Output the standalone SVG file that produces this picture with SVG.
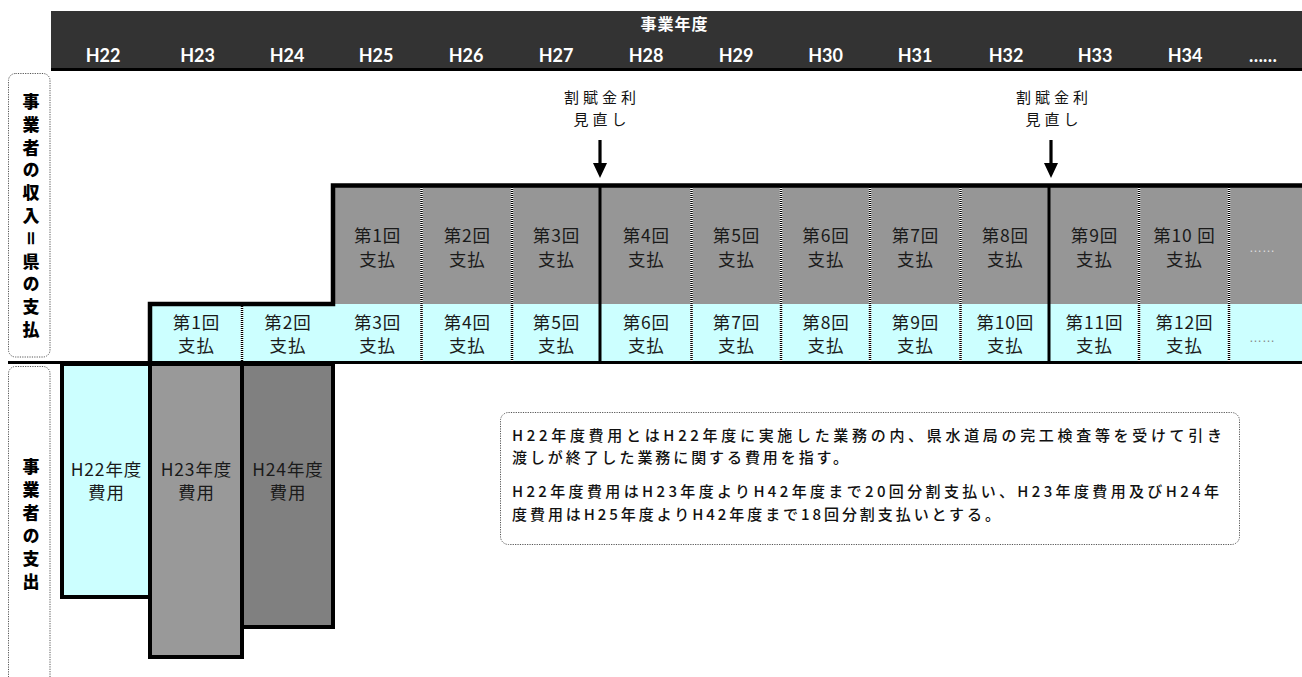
<svg xmlns="http://www.w3.org/2000/svg" width="1302" height="677" viewBox="0 0 1302 677">
<style>
.yr{font-family:"Lato","Noto Sans","Noto Sans CJK JP",sans-serif;font-size:18px;font-weight:bold;fill:#fff;text-anchor:middle}
.ttl{font-family:"Noto Sans CJK JP",sans-serif;font-size:16px;font-weight:bold;fill:#fff;text-anchor:middle;letter-spacing:1px}
.cell{font-family:"Noto Sans CJK JP",sans-serif;font-size:17.5px;fill:#1a1a1a;text-anchor:middle;letter-spacing:0.8px}
.vl{font-family:"Noto Sans CJK JP",sans-serif;font-size:17px;font-weight:900;fill:#000;writing-mode:vertical-rl}
.note{font-family:"Noto Sans CJK JP",sans-serif;font-size:15px;font-weight:500;fill:#111}
.ann{font-family:"Noto Sans CJK JP",sans-serif;font-size:15px;fill:#111;text-anchor:middle;letter-spacing:4px}
.dotbox{fill:none;stroke:#555;stroke-width:1;stroke-dasharray:1.2 1.2}
.sepw{stroke:#fff;stroke-width:2.5}
.sepd{stroke:#000;stroke-width:2.5;stroke-dasharray:1 1}
.thick{stroke:#000;stroke-width:3}
</style>

<g id="header">
<rect x="51" y="11" width="1251" height="58" fill="#333"/>
<rect x="51" y="68" width="1251" height="3" fill="#000"/>
<text class="ttl" x="674.5" y="30">事業年度</text>
<text class="yr" x="103" y="62">H22</text>
<text class="yr" x="197.5" y="62">H23</text>
<text class="yr" x="287" y="62">H24</text>
<text class="yr" x="376" y="62">H25</text>
<text class="yr" x="466" y="62">H26</text>
<text class="yr" x="556" y="62">H27</text>
<text class="yr" x="646" y="62">H28</text>
<text class="yr" x="736" y="62">H29</text>
<text class="yr" x="825.5" y="62">H30</text>
<text class="yr" x="915" y="62">H31</text>
<text class="yr" x="1006" y="62">H32</text>
<text class="yr" x="1095" y="62">H33</text>
<text class="yr" x="1185" y="62">H34</text>
<text class="yr" x="1263" y="62" font-weight="normal">……</text>
</g>

<g id="label-income">
<rect class="dotbox" x="8.5" y="73.5" width="41.5" height="283.5" rx="7"/>
<text class="vl" x="31" y="93" style="letter-spacing:5.8px">事業者の収入＝県の支払</text>
</g>

<g id="label-expense">
<rect class="dotbox" x="8.5" y="366.5" width="41.5" height="320" rx="7"/>
<text class="vl" x="31" y="458" style="letter-spacing:6px">事業者の支出</text>
</g>

<g id="payment-grid">
<rect x="333" y="185" width="969" height="119" fill="#969696"/>
<rect x="150" y="304" width="1152" height="58" fill="#ccffff"/>
<g id="separators">
<line class="sepw" x1="242" y1="306" x2="242" y2="361"/><line class="sepd" x1="242" y1="306" x2="242" y2="361"/>
<line class="sepw" x1="421.5" y1="187" x2="421.5" y2="361"/><line class="sepd" x1="421.5" y1="187" x2="421.5" y2="361"/>
<line class="sepw" x1="512" y1="187" x2="512" y2="361"/><line class="sepd" x1="512" y1="187" x2="512" y2="361"/>
<line class="sepw" x1="691.5" y1="187" x2="691.5" y2="361"/><line class="sepd" x1="691.5" y1="187" x2="691.5" y2="361"/>
<line class="sepw" x1="781" y1="187" x2="781" y2="361"/><line class="sepd" x1="781" y1="187" x2="781" y2="361"/>
<line class="sepw" x1="870" y1="187" x2="870" y2="361"/><line class="sepd" x1="870" y1="187" x2="870" y2="361"/>
<line class="sepw" x1="960.5" y1="187" x2="960.5" y2="361"/><line class="sepd" x1="960.5" y1="187" x2="960.5" y2="361"/>
<line class="sepw" x1="1139" y1="187" x2="1139" y2="361"/><line class="sepd" x1="1139" y1="187" x2="1139" y2="361"/>
<line class="sepw" x1="1229" y1="187" x2="1229" y2="361"/><line class="sepd" x1="1229" y1="187" x2="1229" y2="361"/>
<line class="thick" x1="600" y1="186" x2="600" y2="362"/>
<line class="thick" x1="1049" y1="186" x2="1049" y2="362"/>
</g>
<path d="M150,362 L150,304 L333,304 L333,185.5 L1302,185.5" fill="none" stroke="#000" stroke-width="4.5"/>
<line x1="8" y1="362.5" x2="1302" y2="362.5" stroke="#000" stroke-width="3"/>

<g id="gray-row-text">
<text class="cell" x="377.5" y="242">第1回</text><text class="cell" x="377.5" y="266">支払</text>
<text class="cell" x="467.2" y="242">第2回</text><text class="cell" x="467.2" y="266">支払</text>
<text class="cell" x="556.4" y="242">第3回</text><text class="cell" x="556.4" y="266">支払</text>
<text class="cell" x="646.2" y="242">第4回</text><text class="cell" x="646.2" y="266">支払</text>
<text class="cell" x="736.4" y="242">第5回</text><text class="cell" x="736.4" y="266">支払</text>
<text class="cell" x="825.9" y="242">第6回</text><text class="cell" x="825.9" y="266">支払</text>
<text class="cell" x="915.4" y="242">第7回</text><text class="cell" x="915.4" y="266">支払</text>
<text class="cell" x="1005.2" y="242">第8回</text><text class="cell" x="1005.2" y="266">支払</text>
<text class="cell" x="1094.4" y="242">第9回</text><text class="cell" x="1094.4" y="266">支払</text>
<text class="cell" x="1184.4" y="242">第10 回</text><text class="cell" x="1184.4" y="266">支払</text>
<text x="1262" y="252" font-family="Liberation Sans, sans-serif" font-size="13" fill="#ddd" text-anchor="middle">……</text>
</g>
<g id="cyan-row-text">
<text class="cell" x="196.4" y="329">第1回</text><text class="cell" x="196.4" y="352">支払</text>
<text class="cell" x="287.9" y="329">第2回</text><text class="cell" x="287.9" y="352">支払</text>
<text class="cell" x="377.5" y="329">第3回</text><text class="cell" x="377.5" y="352">支払</text>
<text class="cell" x="467.2" y="329">第4回</text><text class="cell" x="467.2" y="352">支払</text>
<text class="cell" x="556.4" y="329">第5回</text><text class="cell" x="556.4" y="352">支払</text>
<text class="cell" x="646.2" y="329">第6回</text><text class="cell" x="646.2" y="352">支払</text>
<text class="cell" x="736.4" y="329">第7回</text><text class="cell" x="736.4" y="352">支払</text>
<text class="cell" x="825.9" y="329">第8回</text><text class="cell" x="825.9" y="352">支払</text>
<text class="cell" x="915.4" y="329">第9回</text><text class="cell" x="915.4" y="352">支払</text>
<text class="cell" x="1005.2" y="329">第10回</text><text class="cell" x="1005.2" y="352">支払</text>
<text class="cell" x="1094.4" y="329">第11回</text><text class="cell" x="1094.4" y="352">支払</text>
<text class="cell" x="1184.4" y="329">第12回</text><text class="cell" x="1184.4" y="352">支払</text>
<text x="1262" y="342" font-family="Liberation Sans, sans-serif" font-size="13" fill="#888" text-anchor="middle">……</text>
</g>
</g>

<g id="cost-h22">
<rect x="62" y="364" width="88" height="233" fill="#ccffff" stroke="#000" stroke-width="4"/>
<text class="cell"><tspan x="106.4" y="476">H22年度</tspan><tspan x="106.4" y="499">費用</tspan></text>
</g>
<g id="cost-h23">
<rect x="150" y="364" width="92" height="293" fill="#999" stroke="#000" stroke-width="4"/>
<text class="cell"><tspan x="196.4" y="476">H23年度</tspan><tspan x="196.4" y="499">費用</tspan></text>
</g>
<g id="cost-h24">
<rect x="242" y="364" width="91" height="263" fill="#808080" stroke="#000" stroke-width="4"/>
<text class="cell"><tspan x="287.9" y="476">H24年度</tspan><tspan x="287.9" y="499">費用</tspan></text>
</g>

<g id="annotation-1">
<text class="ann" x="602" y="103">割賦金利</text>
<text class="ann" x="602" y="125">見直し</text>
</g>
<g id="annotation-2">
<text class="ann" x="1054" y="103">割賦金利</text>
<text class="ann" x="1054" y="125">見直し</text>
</g>

<g id="connectors">
<line x1="600" y1="140" x2="600" y2="166" stroke="#000" stroke-width="3.2"/>
<path d="M593,163 L607,163 L600,178 Z" fill="#000"/>
<line x1="1051" y1="140" x2="1051" y2="166" stroke="#000" stroke-width="3.2"/>
<path d="M1044,163 L1058,163 L1051,178 Z" fill="#000"/>
</g>

<g id="note">
<rect class="dotbox" x="500.5" y="412.5" width="739" height="132" rx="8"/>
<text class="note" x="512" y="441" textLength="710" lengthAdjust="spacing">H22年度費用とはH22年度に実施した業務の内、県水道局の完工検査等を受けて引き</text>
<text class="note" x="512" y="463" textLength="336" lengthAdjust="spacing">渡しが終了した業務に関する費用を指す。</text>
<text class="note" x="512" y="497" textLength="707" lengthAdjust="spacing">H22年度費用はH23年度よりH42年度まで20回分割支払い、H23年度費用及びH24年</text>
<text class="note" x="512" y="520" textLength="488" lengthAdjust="spacing">度費用はH25年度よりH42年度まで18回分割支払いとする。</text>
</g>
</svg>
